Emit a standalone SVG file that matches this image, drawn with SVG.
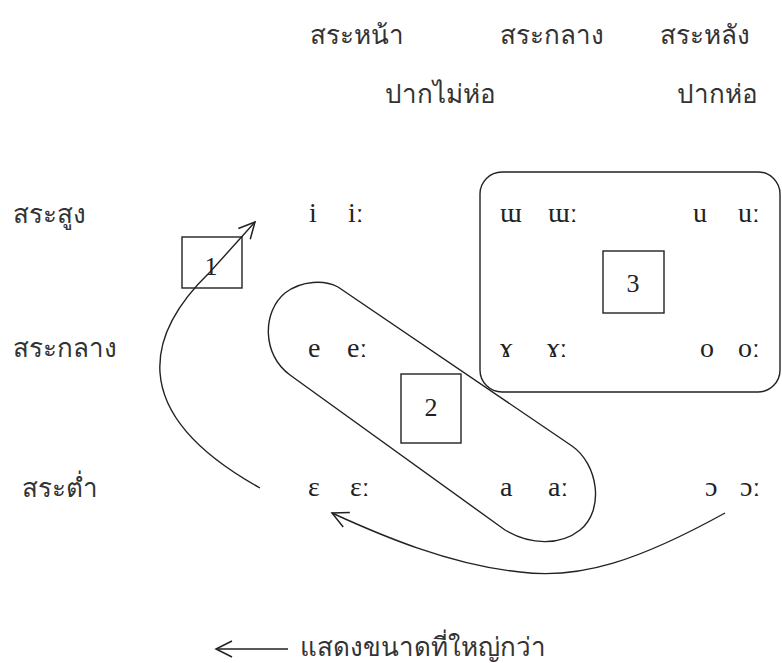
<svg xmlns="http://www.w3.org/2000/svg" width="782" height="663" viewBox="0 0 782 663">
<defs>
<style>
.th{font-family:"Noto Sans","DejaVu Sans",sans-serif;font-size:26px;fill:#333}
.ipa{font-family:"Liberation Serif","DejaVu Serif",serif;font-size:28px;fill:#222}
.num{font-family:"Liberation Serif",serif;font-size:26px;fill:#222;text-anchor:middle}
.ln{fill:none;stroke:#222;stroke-width:1.4}
</style>
<marker id="ah" markerWidth="20" markerHeight="20" refX="18" refY="10" orient="auto" markerUnits="userSpaceOnUse" viewBox="0 0 20 20">
<path d="M2,2 L18,10 L2,18" fill="none" stroke="#222" stroke-width="1.5"/>
</marker>
</defs>
<rect width="782" height="663" fill="#fff"/>
<g id="headers">
<text class="th" x="310" y="44">สระหน้า</text>
<text class="th" x="500" y="44">สระกลาง</text>
<text class="th" x="660" y="44">สระหลัง</text>
<text class="th" x="385" y="103">ปากไม่ห่อ</text>
<text class="th" x="677" y="103">ปากห่อ</text>
</g>
<g id="rowlabels">
<text class="th" x="13" y="223">สระสูง</text>
<text class="th" x="13" y="357">สระกลาง</text>
<text class="th" x="22" y="497">สระต่ำ</text>
</g>
<g id="vowels">
<text class="ipa" x="309" y="222">i</text><text class="ipa" x="348" y="222">iː</text>
<text class="ipa" x="500" y="222">ɯ</text><text class="ipa" x="548" y="222">ɯː</text>
<text class="ipa" x="693" y="222">u</text><text class="ipa" x="738" y="222">uː</text>
<text class="ipa" x="308" y="357">e</text><text class="ipa" x="347" y="357">eː</text>
<text class="ipa" x="500" y="357">ɤ</text><text class="ipa" x="547" y="357">ɤː</text>
<text class="ipa" x="700" y="357">o</text><text class="ipa" x="738" y="357">oː</text>
<text class="ipa" x="308" y="496">ɛ</text><text class="ipa" x="350" y="496">ɛː</text>
<text class="ipa" x="500" y="496">a</text><text class="ipa" x="548" y="496">aː</text>
<text class="ipa" x="705" y="496">ɔ</text><text class="ipa" x="740" y="496">ɔː</text>
</g>
<g id="group3">
<rect class="ln" x="480" y="172" width="300" height="220" rx="22"/>
<rect class="ln" x="603" y="251" width="61" height="62"/>
<text class="num" x="633" y="292">3</text>
</g>
<g id="group2">
<path class="ln" d="M338,287 L572,446 C598,464 605,510 580,530 C560,546 530,545 505,530 L290,375 C262,355 262,312 285,293 C302,280 325,280 338,287 Z"/>
<rect class="ln" x="401" y="374" width="60" height="69"/>
<text class="num" x="431" y="416">2</text>
</g>
<g id="box1">
<rect class="ln" x="182" y="237" width="60" height="51"/>
<text class="num" x="211" y="275">1</text>
</g>
<g id="connectors">
<path class="ln" d="M260,488 C120,410 150,330 210,272 L255,222" marker-end="url(#ah)"/>
<path class="ln" d="M725,513 C640,560 580,580 520,572 C450,565 380,535 332,513" marker-end="url(#ah)"/>
</g>
<g id="legend">
<path class="ln" d="M288,649 L216,649" marker-end="url(#ah)"/>
<text class="th" x="300" y="656">แสดงขนาดที่ใหญ่กว่า</text>
</g>
</svg>
